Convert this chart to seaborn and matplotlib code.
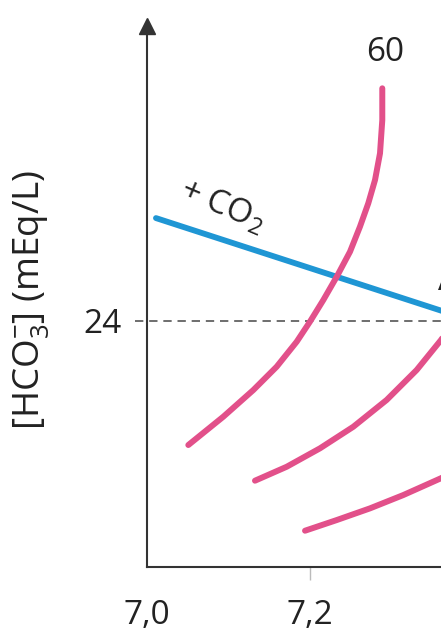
import numpy as np
import pandas as pd
import matplotlib
matplotlib.use("Agg")
import matplotlib.pyplot as plt
import seaborn as sns

# ---- data ----
curve60_ph = [7.0507, 7.0936, 7.1304, 7.1591, 7.1837, 7.2000, 7.2163, 7.2328,
              7.2491, 7.2613, 7.2715, 7.2798, 7.2859, 7.2887, 7.2887]
curve60_hco3 = [17.95, 19.33, 20.63, 21.77, 22.99, 23.97, 25.02, 26.16,
                27.38, 28.60, 29.74, 30.88, 32.18, 33.80, 35.35]
curve40_ph = [7.1325, 7.1714, 7.2123, 7.2531, 7.2941, 7.3309, 7.3607, 7.3840]
curve40_hco3 = [16.21, 16.89, 17.79, 18.84, 20.15, 21.61, 23.07, 24.44]
curve20_ph = [7.1939, 7.2328, 7.2736, 7.3145, 7.3607, 7.3963]
curve20_hco3 = [13.77, 14.29, 14.86, 15.51, 16.33, 17.02]
buffer_ph = [7.011, 7.400]
buffer_hco3 = [29.02, 24.00]
normal_ph = 7.4
normal_hco3 = 24
xtick_vals = [7.0, 7.2]
xtick_labels = ["7,0", "7,2"]
ytick_vals = [24]
ytick_labels = ["24"]

PINK = "#e2508a"
BLUE = "#1f96d4"
AXC = "#333333"

sns.set_theme(style="white")
plt.rcParams["font.family"] = ["Open Sans", "DejaVu Sans"]
plt.rcParams["mathtext.fontset"] = "custom"
plt.rcParams["mathtext.rm"] = "Open Sans"
plt.rcParams["mathtext.it"] = "Open Sans:italic"
plt.rcParams["mathtext.bf"] = "Open Sans:bold"

fig = plt.figure(figsize=(4.41, 6.31), dpi=100)
ax = fig.add_axes([0.33333, 0.10143, 1.10884, 0.85737])

iso = pd.DataFrame({
    "pH": curve60_ph + curve40_ph + curve20_ph,
    "hco3": curve60_hco3 + curve40_hco3 + curve20_hco3,
    "curve": ["60"] * len(curve60_ph) + ["40"] * len(curve40_ph) + ["20"] * len(curve20_ph),
})
buf = pd.DataFrame({"pH": buffer_ph, "hco3": buffer_hco3})

# dashed reference at 24
ax.plot([6.985, normal_ph], [normal_hco3, normal_hco3], color="#555555", lw=1.2,
        dashes=(5, 3.5), clip_on=False, zorder=1)

sns.lineplot(data=iso, x="pH", y="hco3", units="curve", estimator=None, sort=False,
             color=PINK, lw=4.3, ax=ax, legend=False, solid_capstyle="round",
             solid_joinstyle="round", zorder=3)
sns.lineplot(data=buf, x="pH", y="hco3", estimator=None, sort=False,
             color=BLUE, lw=4.2, ax=ax, legend=False, solid_capstyle="round", zorder=2)

ax.set_xlim(7.0, 7.6)
ax.set_ylim(12.0, 38.39)

for s in ["top", "right"]:
    ax.spines[s].set_visible(False)
for s in ["left", "bottom"]:
    ax.spines[s].set_color(AXC)
    ax.spines[s].set_linewidth(1.5)

ax.set_xticks(xtick_vals)
ax.set_xticklabels(xtick_labels, fontsize=24, color="#222222")
ax.set_yticks(ytick_vals)
ax.set_yticklabels(ytick_labels, fontsize=24, color="#222222")
ax.tick_params(axis="x", direction="out", length=9, width=1, color="#bbbbbb", pad=14, bottom=True)
ax.tick_params(axis="y", length=0, pad=18, left=True)
ax.xaxis.get_major_ticks()[0].tick1line.set_visible(False)
ax.set_xlabel("")
ax.set_ylabel("")

# arrow at top of y axis
ax.plot([0], [1], marker="^", ms=12, color=AXC, transform=ax.transAxes, clip_on=False)

# labels
ax.text(7.292, 37.12, "60", fontsize=24, ha="center", va="center", color="#222222")
ax.text(7.092, 29.6, "+ CO$_2$", fontsize=24, ha="center", va="center", rotation=-23,
        rotation_mode="anchor", color="#222222")
ax.text(7.357, 25.5, "A", fontsize=24, ha="left", va="baseline", color="#222222")

fig.text(31 / 441, 1 - 300 / 631, "[HCO$_3^{-}$] (mEq/L)", fontsize=26.5, rotation=90,
         ha="center", va="center", color="#222222")

fig.savefig("out.png", dpi=100)
